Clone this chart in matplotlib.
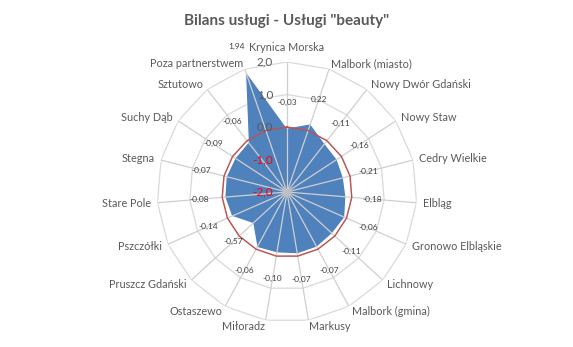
import numpy as np
import matplotlib
matplotlib.use("Agg")
import matplotlib.pyplot as plt

# Service balance per municipality ("beauty" services)
categories = [
    "Krynica Morska", "Malbork (miasto)", "Nowy Dwór Gdański", "Nowy Staw",
    "Cedry Wielkie", "Elbląg", "Gronowo Elbląskie", "Lichnowy",
    "Malbork (gmina)", "Markusy", "Miłoradz", "Ostaszewo",
    "Pruszcz Gdański", "Pszczółki", "Stare Pole", "Stegna",
    "Suchy Dąb", "Sztutowo", "Poza partnerstwem",
]
values = [
    -0.03, 0.22, -0.11, -0.16,
    -0.21, -0.18, -0.06, -0.11,
    -0.07, -0.07, -0.10, -0.06,
    -0.57, -0.14, -0.08, -0.07,
    -0.09, -0.06, 1.94,
]
zero_level = 0.0
r_ticks = [-2.0, -1.0, 0.0, 1.0, 2.0]
title = 'Bilans usługi - Usługi "beauty"'

FONT = "Lato"
TEXT_GREY = "#595959"
GRID = "#d9d9d9"
SPOKE = "#cfcfcf"
FILL = "#4f81bd"
RED_LINE = "#c0504d"

W, H = 573, 347
fig = plt.figure(figsize=(W / 100, H / 100), dpi=100)
fig.patch.set_facecolor("white")

cx, cy, R = 287, 192, 130  # centre and outer radius in pixels
ax = fig.add_axes([(cx - R) / W, (H - cy - R) / H, 2 * R / W, 2 * R / H],
                  projection="polar")
ax.set_theta_zero_location("N")
ax.set_theta_direction(-1)
ax.set_ylim(r_ticks[0], r_ticks[-1])
ax.grid(False)
ax.set_xticks([])
ax.set_yticks([])
ax.spines["polar"].set_visible(False)
ax.patch.set_alpha(0)

n = len(categories)
theta = np.arange(n) * 2 * np.pi / n
theta_c = np.append(theta, theta[0])

# polygonal rings
for r in r_ticks[1:]:
    ax.plot(theta_c, [r] * (n + 1), color=GRID, lw=0.9, zorder=1)

# data area
vals_c = np.append(values, values[0])
ax.fill(theta_c, vals_c, facecolor=FILL, edgecolor="white", lw=0.8, zorder=2)

# spokes
for t in theta:
    ax.plot([t, t], [r_ticks[0], r_ticks[-1]], color=SPOKE, lw=0.9, zorder=3)
ax.scatter([0], [r_ticks[0]], s=30, color="#bfbfbf", zorder=3.5, linewidths=0)

# zero reference ring
ax.plot(theta_c, [zero_level] * (n + 1), color=RED_LINE, lw=1.0, zorder=4)

# radial tick labels along the top spoke
for r in r_ticks:
    txt = f"{r:.1f}".replace(".", ",")
    col = "#ff0000" if r < 0 else TEXT_GREY
    ax.annotate(txt, xy=(0, r), xytext=(-14, 0), textcoords="offset pixels",
                ha="right", va="center", fontsize=8.5, color=col,
                family=FONT, zorder=6, annotation_clip=False)

# data labels pushed outwards along each spoke
for t, v in zip(theta, values):
    txt = f"{v:.2f}".replace(".", ",")
    ax.annotate(txt, xy=(t, v), xytext=(26 * np.sin(t), 26 * np.cos(t)),
                textcoords="offset pixels", ha="center", va="center",
                fontsize=6, color="#404040", family=FONT, zorder=7,
                annotation_clip=False)

# category labels
for t, name in zip(theta, categories):
    s, c = np.sin(t), np.cos(t)
    if abs(s) < 0.05:
        ha = "center"
    else:
        ha = "left" if s > 0 else "right"
    va = "bottom" if (c > 0.99) else "center"
    pad = 9 if va == "bottom" else 6
    ax.annotate(name, xy=(t, r_ticks[-1]), xytext=(pad * s, pad * c),
                textcoords="offset pixels", ha=ha, va=va, fontsize=7.8,
                color=TEXT_GREY, family=FONT, annotation_clip=False)

fig.text(cx / W, 1 - 21 / H, title, ha="center", va="center",
         fontsize=11, fontweight="bold", color=TEXT_GREY, family=FONT)

fig.savefig("out.png", dpi=100, facecolor="white")
